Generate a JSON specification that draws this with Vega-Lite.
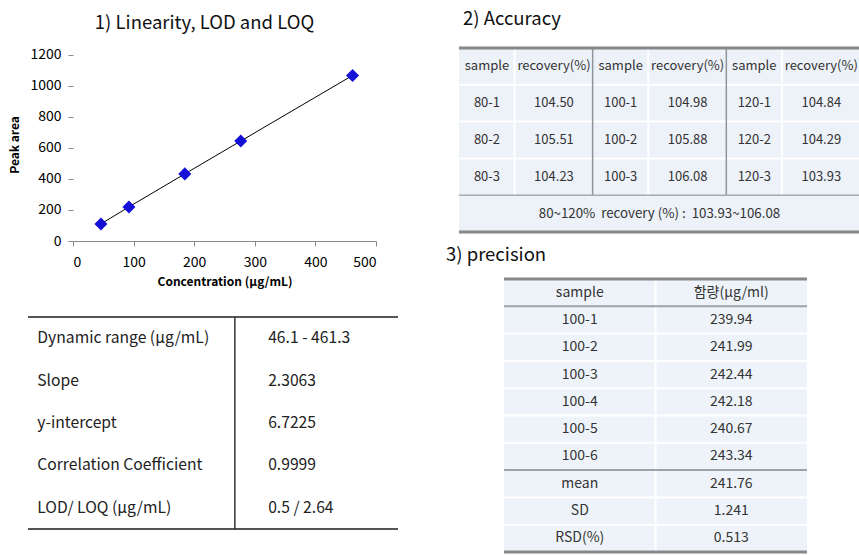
{
  "$schema": "https://vega.github.io/schema/vega-lite/v6.json",
  "padding": {"left": 8, "top": 10, "right": 0, "bottom": 0},
  "background": "white",
  "config": {
    "view": {"stroke": null},
    "font": "Noto Sans CJK KR",
    "title": {"font": "Noto Sans CJK KR", "fontWeight": "normal", "fontSize": 18.5, "color": "#111"},
    "text": {"font": "Noto Sans CJK KR", "color": "#333"}
  },
  "hconcat": [
    {
      "vconcat": [
        {
          "width": 303,
          "height": 193,
          "title": {"text": "1) Linearity, LOD and LOQ", "dx": -20, "offset": 15},
          "data": {"values": [
            {"conc": 46.1, "area": 110},
            {"conc": 92.3, "area": 220},
            {"conc": 184.5, "area": 433},
            {"conc": 276.8, "area": 645},
            {"conc": 461.3, "area": 1068}
          ]},
          "encoding": {
            "x": {"field": "conc", "type": "quantitative", "scale": {"domain": [0, 500], "nice": false},
              "axis": {"values": [0, 100, 200, 300, 400, 500], "format": "d", "title": "Concentration  (μg/mL)", "grid": false,
                "domainColor": "#888", "tickColor": "#888", "tickSize": 5, "labelFontSize": 14, "labelColor": "#000",
                "labelPadding": 9, "labelFont": "Noto Sans CJK KR", "titleFont": "Noto Sans CJK KR", "titleFontSize": 12, "titleFontWeight": "bold", "titleColor": "#000", "titlePadding": 7}},
            "y": {"field": "area", "type": "quantitative", "scale": {"domain": [0, 1245.16], "nice": false},
              "axis": {"values": [0, 200, 400, 600, 800, 1000, 1200], "format": "d", "title": "Peak area", "grid": false, "domain": false,
                "tickColor": "#888", "tickSize": 5, "labelFontSize": 14, "labelColor": "#000",
                "labelPadding": 7, "labelFont": "Noto Sans CJK KR", "titleFont": "Noto Sans CJK KR", "titleFontSize": 12, "titleFontWeight": "bold", "titleColor": "#000", "titlePadding": 8}}
          },
          "layer": [
            {
              "data": {"values": [{}]},
              "mark": {"type": "rule", "color": "#888", "strokeWidth": 1},
              "encoding": {
                "x": {"datum": 0, "type": "quantitative"},
                "y": {"datum": 0, "type": "quantitative"},
                "y2": {"datum": 1200}
              }
            },
            {"mark": {"type": "line", "color": "#000", "strokeWidth": 1}},
            {"mark": {"type": "point", "shape": "diamond", "filled": true, "size": 170, "color": "#1410D8", "opacity": 1}}
          ]
        },
        {
          "width": 325,
          "height": 212,
          "layer": [
            {
              "data": {"values": [{"b": -0.5}, {"b": 4.5}]},
              "mark": {"type": "rule", "color": "#555", "strokeWidth": 2},
              "encoding": {
                "y": {"field": "b", "type": "quantitative", "scale": {"domain": [-0.5, 4.5], "reverse": true, "nice": false, "zero": false}, "axis": null},
                "x": {"datum": 0, "type": "quantitative", "scale": {"domain": [0.1216, 1], "nice": false, "zero": false}, "axis": null},
                "x2": {"datum": 1}
              }
            },
            {
              "data": {"values": [{"d": 0.559}]},
              "mark": {"type": "rule", "color": "#333", "strokeWidth": 1.5},
              "encoding": {
                "x": {"field": "d", "type": "quantitative", "scale": {"domain": [0.1216, 1], "nice": false, "zero": false}, "axis": null},
                "y": {"datum": -0.5, "type": "quantitative", "scale": {"domain": [-0.5, 4.5], "reverse": true, "nice": false, "zero": false}, "axis": null},
                "y2": {"datum": 4.5}
              }
            },
            {
              "data": {"name": "lod"},
              "mark": {"type": "text", "align": "left", "baseline": "middle", "fontSize": 15.7, "color": "#222"},
              "encoding": {
                "x": {"datum": 0.025, "type": "quantitative", "scale": {"domain": [0.1216, 1], "nice": false, "zero": false}, "axis": null},
                "y": {"field": "row", "type": "quantitative", "scale": {"domain": [-0.5, 4.5], "reverse": true, "nice": false, "zero": false}, "axis": null},
                "text": {"field": "label"}
              }
            },
            {
              "data": {"name": "lod"},
              "mark": {"type": "text", "align": "left", "baseline": "middle", "fontSize": 15.7, "color": "#222"},
              "encoding": {
                "x": {"datum": 0.649, "type": "quantitative", "scale": {"domain": [0.1216, 1], "nice": false, "zero": false}, "axis": null},
                "y": {"field": "row", "type": "quantitative", "scale": {"domain": [-0.5, 4.5], "reverse": true, "nice": false, "zero": false}, "axis": null},
                "text": {"field": "value"}
              }
            }
          ]
        }
      ],
      "spacing": 29
    },
    {
      "vconcat": [
        {
          "width": 414,
          "height": 184,
          "title": {"text": "2) Accuracy", "anchor": "start", "dx": 17, "offset": 18},
          "layer": [
            {
              "data": {"values": [{}]},
              "mark": {"type": "rect", "color": "#EDF1F8"},
              "encoding": {
                "x": {"datum": 0, "type": "quantitative", "scale": {"domain": [-0.097, 3], "nice": false, "zero": false}, "axis": null},
                "x2": {"datum": 3},
                "y": {"datum": -0.5, "type": "quantitative", "scale": {"domain": [-0.5, 4.5], "reverse": true, "nice": false, "zero": false}, "axis": null},
                "y2": {"datum": 4.5}
              }
            },
            {
              "data": {"values": [{"b": 0.5}, {"b": 1.5}, {"b": 2.5}]},
              "mark": {"type": "rule", "color": "#ffffff", "strokeWidth": 2},
              "encoding": {
                "y": {"field": "b", "type": "quantitative", "scale": {"domain": [-0.5, 4.5], "reverse": true, "nice": false, "zero": false}, "axis": null},
                "x": {"datum": 0, "type": "quantitative", "scale": {"domain": [-0.097, 3], "nice": false, "zero": false}, "axis": null},
                "x2": {"datum": 3}
              }
            },
            {
              "data": {"values": [{"d": 0.416}, {"d": 1.416}, {"d": 2.416}]},
              "mark": {"type": "rule", "color": "#ffffff", "strokeWidth": 2},
              "encoding": {
                "x": {"field": "d", "type": "quantitative", "scale": {"domain": [-0.097, 3], "nice": false, "zero": false}, "axis": null},
                "y": {"datum": -0.5, "type": "quantitative", "scale": {"domain": [-0.5, 4.5], "reverse": true, "nice": false, "zero": false}, "axis": null},
                "y2": {"datum": 3.5}
              }
            },
            {
              "data": {"values": [{"d": 1}, {"d": 2}]},
              "mark": {"type": "rule", "color": "#8f959c", "strokeWidth": 1.5},
              "encoding": {
                "x": {"field": "d", "type": "quantitative", "scale": {"domain": [-0.097, 3], "nice": false, "zero": false}, "axis": null},
                "y": {"datum": -0.5, "type": "quantitative", "scale": {"domain": [-0.5, 4.5], "reverse": true, "nice": false, "zero": false}, "axis": null},
                "y2": {"datum": 3.5}
              }
            },
            {
              "data": {"values": [{"b": 3.5}]},
              "mark": {"type": "rule", "color": "#a5abb2", "strokeWidth": 1.5},
              "encoding": {
                "y": {"field": "b", "type": "quantitative", "scale": {"domain": [-0.5, 4.5], "reverse": true, "nice": false, "zero": false}, "axis": null},
                "x": {"datum": 0, "type": "quantitative", "scale": {"domain": [-0.097, 3], "nice": false, "zero": false}, "axis": null},
                "x2": {"datum": 3}
              }
            },
            {
              "data": {"values": [{"b": -0.5}, {"b": 4.5}]},
              "mark": {"type": "rule", "color": "#888888", "strokeWidth": 3},
              "encoding": {
                "y": {"field": "b", "type": "quantitative", "scale": {"domain": [-0.5, 4.5], "reverse": true, "nice": false, "zero": false}, "axis": null},
                "x": {"datum": 0, "type": "quantitative", "scale": {"domain": [-0.097, 3], "nice": false, "zero": false}, "axis": null},
                "x2": {"datum": 3}
              }
            },
            {
              "data": {"name": "acc"},
              "mark": {"type": "text", "align": "center", "baseline": "middle", "fontSize": 13, "dx": 28},
              "encoding": {
                "x": {"field": "group", "type": "quantitative", "scale": {"domain": [-0.097, 3], "nice": false, "zero": false}, "axis": null},
                "y": {"field": "row", "type": "quantitative", "scale": {"domain": [-0.5, 4.5], "reverse": true, "nice": false, "zero": false}, "axis": null},
                "text": {"field": "sample"}
              }
            },
            {
              "data": {"name": "acc"},
              "mark": {"type": "text", "align": "center", "baseline": "middle", "fontSize": 13, "dx": 95},
              "encoding": {
                "x": {"field": "group", "type": "quantitative", "scale": {"domain": [-0.097, 3], "nice": false, "zero": false}, "axis": null},
                "y": {"field": "row", "type": "quantitative", "scale": {"domain": [-0.5, 4.5], "reverse": true, "nice": false, "zero": false}, "axis": null},
                "text": {"field": "recovery"}
              }
            },
            {
              "data": {"values": [{"note": "80~120%\u00a0\u00a0recovery (%) :\u00a0\u00a0103.93~106.08"}]},
              "mark": {"type": "text", "align": "center", "baseline": "middle", "fontSize": 13.3},
              "encoding": {
                "x": {"datum": 1.5, "type": "quantitative", "scale": {"domain": [-0.097, 3], "nice": false, "zero": false}, "axis": null},
                "y": {"datum": 4, "type": "quantitative", "scale": {"domain": [-0.5, 4.5], "reverse": true, "nice": false, "zero": false}, "axis": null},
                "text": {"field": "note"}
              }
            }
          ]
        },
        {
          "width": 361,
          "height": 273,
          "title": {"text": "3) precision", "anchor": "start", "offset": 13},
          "layer": [
            {
              "data": {"values": [{}]},
              "mark": {"type": "rect", "color": "#EEF3FA"},
              "encoding": {
                "x": {"datum": 0, "type": "quantitative", "scale": {"domain": [-0.383, 2], "nice": false, "zero": false}, "axis": null},
                "x2": {"datum": 2},
                "y": {"datum": -0.5, "type": "quantitative", "scale": {"domain": [-0.5, 9.5], "reverse": true, "nice": false, "zero": false}, "axis": null},
                "y2": {"datum": 9.5}
              }
            },
            {
              "data": {"values": [{"b": 1.5}, {"b": 2.5}, {"b": 3.5}, {"b": 4.5}, {"b": 5.5}, {"b": 7.5}, {"b": 8.5}]},
              "mark": {"type": "rule", "color": "#ffffff", "strokeWidth": 2},
              "encoding": {
                "y": {"field": "b", "type": "quantitative", "scale": {"domain": [-0.5, 9.5], "reverse": true, "nice": false, "zero": false}, "axis": null},
                "x": {"datum": 0, "type": "quantitative", "scale": {"domain": [-0.383, 2], "nice": false, "zero": false}, "axis": null},
                "x2": {"datum": 2}
              }
            },
            {
              "data": {"values": [{"d": 1}]},
              "mark": {"type": "rule", "color": "#ffffff", "strokeWidth": 2},
              "encoding": {
                "x": {"field": "d", "type": "quantitative", "scale": {"domain": [-0.383, 2], "nice": false, "zero": false}, "axis": null},
                "y": {"datum": -0.5, "type": "quantitative", "scale": {"domain": [-0.5, 9.5], "reverse": true, "nice": false, "zero": false}, "axis": null},
                "y2": {"datum": 9.5}
              }
            },
            {
              "data": {"values": [{"b": 0.5}, {"b": 6.5}]},
              "mark": {"type": "rule", "color": "#9ca2a9", "strokeWidth": 2},
              "encoding": {
                "y": {"field": "b", "type": "quantitative", "scale": {"domain": [-0.5, 9.5], "reverse": true, "nice": false, "zero": false}, "axis": null},
                "x": {"datum": 0, "type": "quantitative", "scale": {"domain": [-0.383, 2], "nice": false, "zero": false}, "axis": null},
                "x2": {"datum": 2}
              }
            },
            {
              "data": {"values": [{"b": -0.5}, {"b": 9.5}]},
              "mark": {"type": "rule", "color": "#888888", "strokeWidth": 3},
              "encoding": {
                "y": {"field": "b", "type": "quantitative", "scale": {"domain": [-0.5, 9.5], "reverse": true, "nice": false, "zero": false}, "axis": null},
                "x": {"datum": 0, "type": "quantitative", "scale": {"domain": [-0.383, 2], "nice": false, "zero": false}, "axis": null},
                "x2": {"datum": 2}
              }
            },
            {
              "data": {"name": "prec"},
              "mark": {"type": "text", "align": "center", "baseline": "middle", "fontSize": 14},
              "encoding": {
                "x": {"datum": 0.5, "type": "quantitative", "scale": {"domain": [-0.383, 2], "nice": false, "zero": false}, "axis": null},
                "y": {"field": "row", "type": "quantitative", "scale": {"domain": [-0.5, 9.5], "reverse": true, "nice": false, "zero": false}, "axis": null},
                "text": {"field": "sample"}
              }
            },
            {
              "data": {"name": "prec"},
              "mark": {"type": "text", "align": "center", "baseline": "middle", "fontSize": 14},
              "encoding": {
                "x": {"datum": 1.5, "type": "quantitative", "scale": {"domain": [-0.383, 2], "nice": false, "zero": false}, "axis": null},
                "y": {"field": "row", "type": "quantitative", "scale": {"domain": [-0.5, 9.5], "reverse": true, "nice": false, "zero": false}, "axis": null},
                "text": {"field": "value"}
              }
            }
          ]
        }
      ],
      "spacing": 12
    }
  ],
  "spacing": 47,
  "datasets": {
    "lod": [
      {"row": 0, "label": "Dynamic range (μg/mL)", "value": "46.1 - 461.3"},
      {"row": 1, "label": "Slope", "value": "2.3063"},
      {"row": 2, "label": "y-intercept", "value": "6.7225"},
      {"row": 3, "label": "Correlation Coefficient", "value": "0.9999"},
      {"row": 4, "label": "LOD/ LOQ (μg/mL)", "value": "0.5 / 2.64"}
    ],
    "acc": [
      {"group": 0, "row": 0, "sample": "sample", "recovery": "recovery(%)"},
      {"group": 1, "row": 0, "sample": "sample", "recovery": "recovery(%)"},
      {"group": 2, "row": 0, "sample": "sample", "recovery": "recovery(%)"},
      {"group": 0, "row": 1, "sample": "80-1", "recovery": "104.50"},
      {"group": 0, "row": 2, "sample": "80-2", "recovery": "105.51"},
      {"group": 0, "row": 3, "sample": "80-3", "recovery": "104.23"},
      {"group": 1, "row": 1, "sample": "100-1", "recovery": "104.98"},
      {"group": 1, "row": 2, "sample": "100-2", "recovery": "105.88"},
      {"group": 1, "row": 3, "sample": "100-3", "recovery": "106.08"},
      {"group": 2, "row": 1, "sample": "120-1", "recovery": "104.84"},
      {"group": 2, "row": 2, "sample": "120-2", "recovery": "104.29"},
      {"group": 2, "row": 3, "sample": "120-3", "recovery": "103.93"}
    ],
    "prec": [
      {"row": 0, "sample": "sample", "value": "함량(μg/ml)"},
      {"row": 1, "sample": "100-1", "value": "239.94"},
      {"row": 2, "sample": "100-2", "value": "241.99"},
      {"row": 3, "sample": "100-3", "value": "242.44"},
      {"row": 4, "sample": "100-4", "value": "242.18"},
      {"row": 5, "sample": "100-5", "value": "240.67"},
      {"row": 6, "sample": "100-6", "value": "243.34"},
      {"row": 7, "sample": "mean", "value": "241.76"},
      {"row": 8, "sample": "SD", "value": "1.241"},
      {"row": 9, "sample": "RSD(%)", "value": "0.513"}
    ]
  }
}
